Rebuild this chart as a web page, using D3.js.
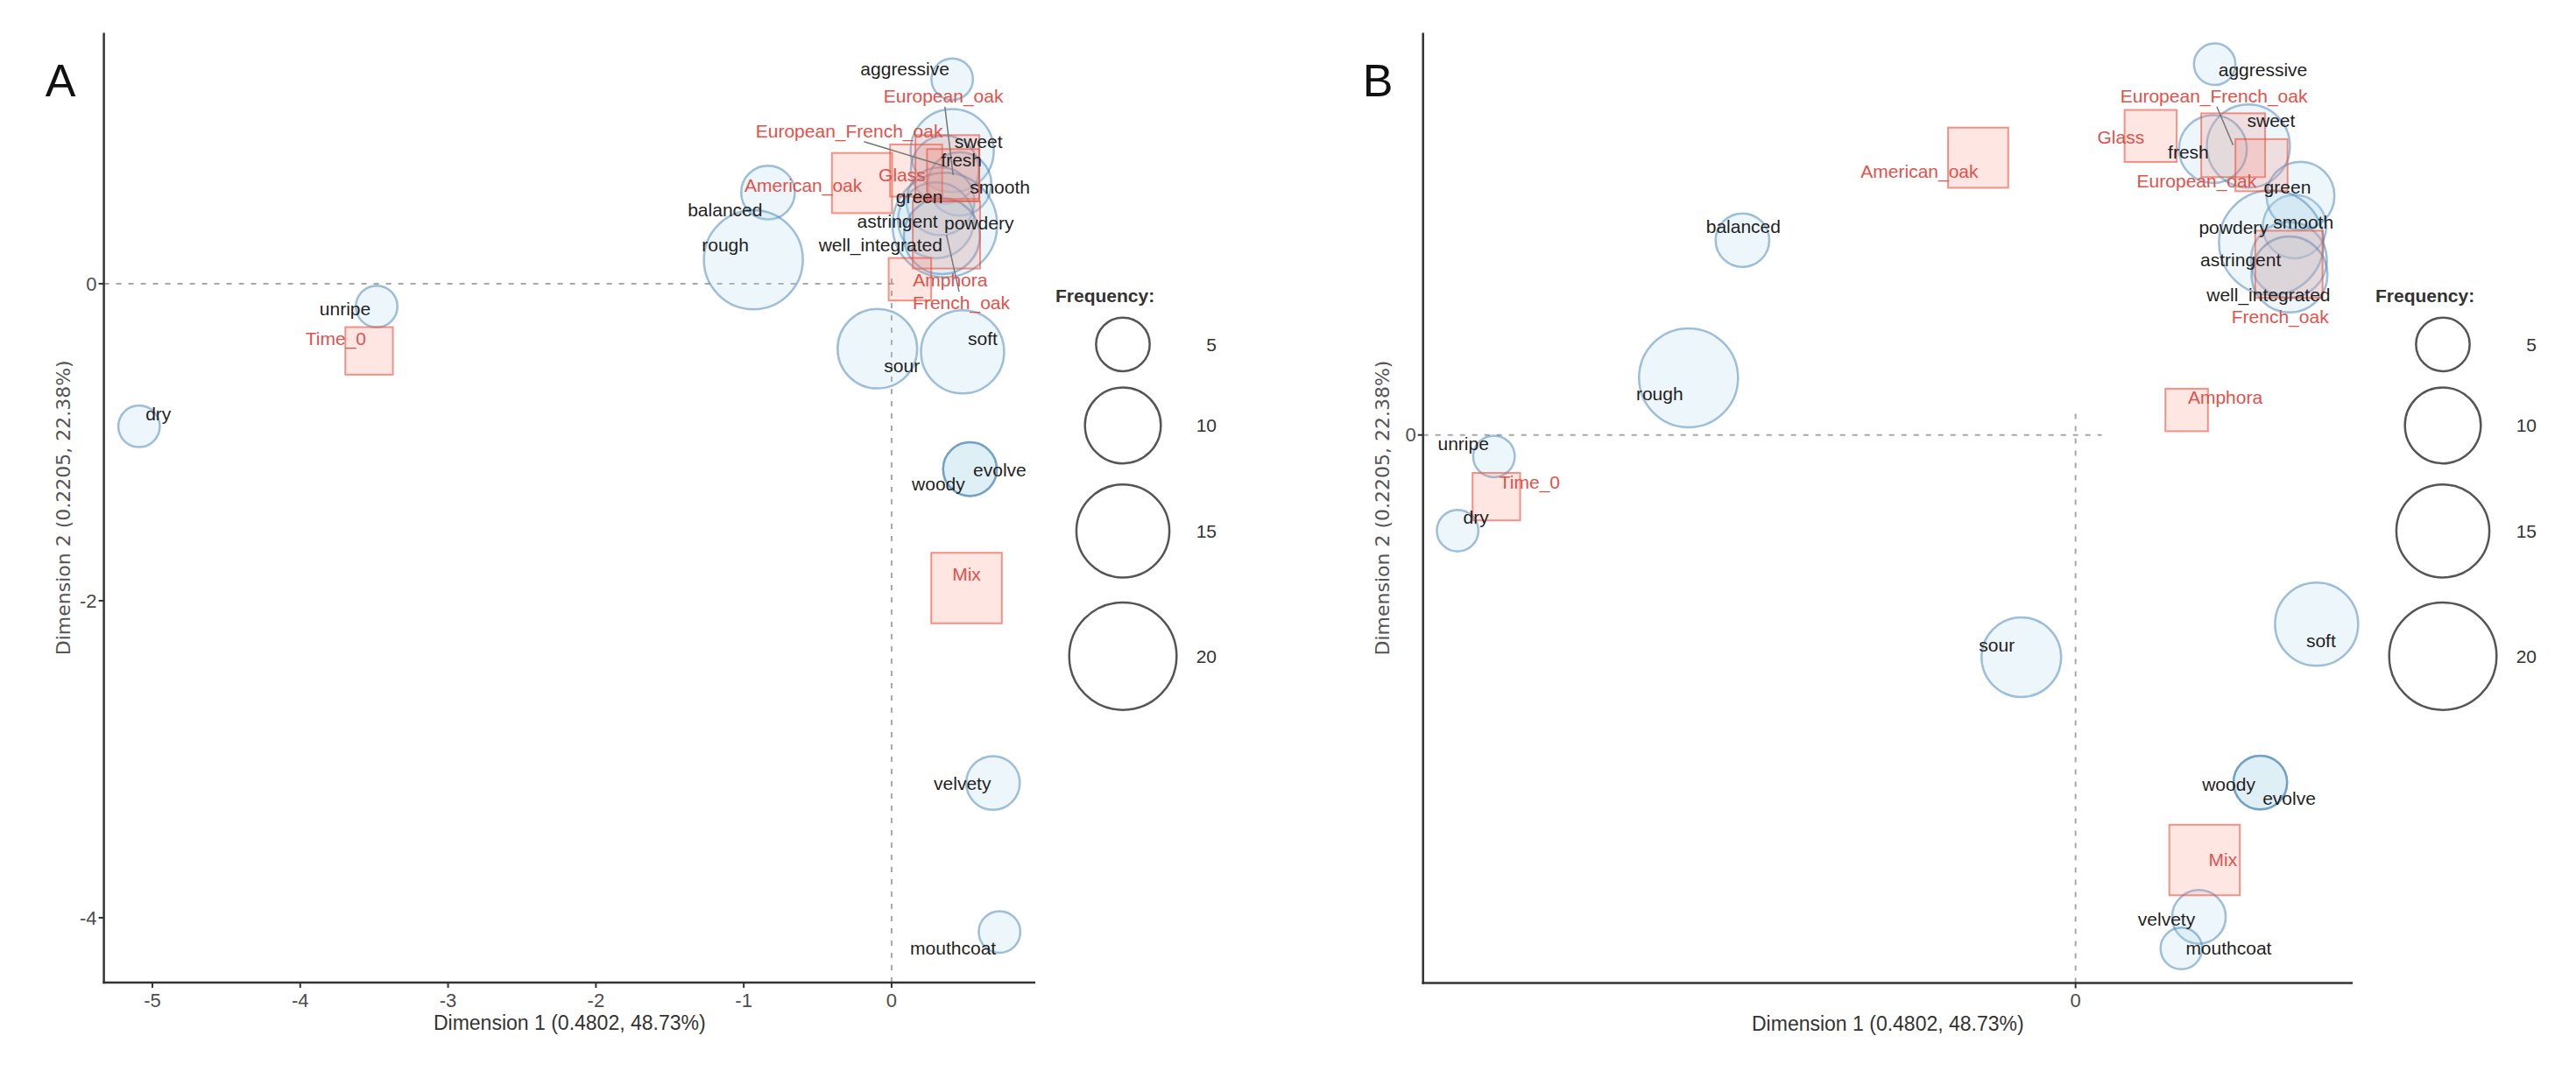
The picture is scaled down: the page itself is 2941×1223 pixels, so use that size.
<!DOCTYPE html>
<html>
<head>
<meta charset="utf-8">
<title>Correspondence maps A / B</title>
<script src="https://d3js.org/d3.v7.min.js"></script>
<style>
    body { margin: 0; background: #fff; }
    svg { display: block; font-family: "Liberation Sans", Arial, sans-serif; }
    .axis-line { stroke: #333; stroke-width: 2.5; }
    .tick-mark { stroke: #333; stroke-width: 2; }
    .tick-label { fill: #4d4d4d; font-size: 22px; }
    .ref-line { stroke: #a8a8a8; stroke-width: 2; stroke-dasharray: 6, 8; }
    .attr { fill: rgba(173, 216, 230, 0.22); stroke: rgba(70, 130, 180, 0.5); stroke-width: 2.5; }
    .cont { fill: rgba(250, 128, 114, 0.2); stroke: rgba(235, 80, 60, 0.6); stroke-width: 2; }
    .lab { font-size: 21px; }
    .seg { stroke: #777; stroke-width: 1.5; }
</style>
</head>
<body>
<div id="chart"></div>
<script>

// attributes (circles), sized by frequency
var attrNames = ['aggressive', 'balanced', 'rough', 'sour', 'soft', 'unripe', 'dry', 'woody', 'evolve',
                 'velvety', 'mouthcoat', 'sweet', 'fresh', 'smooth', 'green', 'astringent', 'powdery', 'well_integrated'];
var attrFreq = [3, 5, 17, 11, 12, 3, 3, 5, 5, 5, 3, 12, 8, 7, 8, 10, 19, 10];
var attrAx = [0.41, -0.836, -0.935, -0.096, 0.48, -3.483, -5.09, 0.53, 0.53, 0.686, 0.73, 0.41, 0.36, 0.46, 0.33, 0.30, 0.36, 0.34];
var attrAy = [1.29, 0.575, 0.151, -0.41, -0.43, -0.144, -0.90, -1.17, -1.17, -3.15, -4.09, 0.84, 0.72, 0.63, 0.52, 0.40, 0.37, 0.30];
var attrBx = [0.467, -1.118, -1.299, -0.182, 0.809, -1.952, -2.074, 0.62, 0.62, 0.414, 0.355, 0.58, 0.461, 0.735, 0.755, 0.716, 0.657, 0.718];
var attrBy = [1.245, 0.654, 0.192, -0.746, -0.635, -0.072, -0.321, -1.167, -1.167, -1.618, -1.724, 0.97, 0.96, 0.70, 0.803, 0.588, 0.646, 0.539];

// containers (squares)
var contNames = ['Time_0', 'American_oak', 'Glass', 'European_French_oak', 'European_oak', 'French_oak', 'Amphora', 'Mix'];
var contFreq = [5, 8, 6, 9, 6, 10, 4, 11];
var contAx = [-3.534, -0.20, 0.166, 0.377, 0.416, 0.371, 0.124, 0.507];
var contAy = [-0.424, 0.635, 0.714, 0.736, 0.685, 0.308, 0.028, -1.92];
var contBx = [-1.944, -0.327, 0.252, 0.529, 0.624, 0.716, 0.373, 0.433];
var contBy = [-0.207, 0.931, 1.004, 0.973, 0.906, 0.573, 0.084, -1.427];

// axes / legend
var ticksAx = [-5, -4, -3, -2, -1, 0];
var ticksAy = [-4, -2, 0];
var ticksBx = [0];
var ticksBy = [0];
var legendFreq = [5, 10, 15, 20];

var xTitle = 'Dimension 1 (0.4802, 48.73%)';
var yTitle = 'Dimension 2 (0.2205, 22.38%)';

// label placement (repel-style offsets in px from the mark centre)
var nudgeA = {
    aggressive: [-54, -12], balanced: [-49, 20], rough: [-32, -17], sour: [28, 19], soft: [23, -15],
    unripe: [-36, 3], dry: [22, -14], woody: [-36, 17], evolve: [34, 1], velvety: [-35, 1],
    mouthcoat: [-53, 18], sweet: [30, -10], fresh: [19, -11], smooth: [46, 4], green: [-24, -5],
    astringent: [-44, 1], powdery: [39, -2], well_integrated: [-70, 10],
    Time_0: [-38, -14], American_oak: [-67, 3], Glass: [-16, 5], European_French_oak: [-112, -41],
    European_oak: [-11, -90], French_oak: [17, 77], Amphora: [46, 1], Mix: [0, -16]
};
var nudgeB = {
    aggressive: [55, 6], balanced: [1, -16], rough: [-33, 18], sour: [-28, -14], soft: [5, 19],
    unripe: [-35, -15], dry: [21, -15], woody: [-36, 2], evolve: [33, 18], velvety: [-37, 3],
    mouthcoat: [54, 0], sweet: [26, -29], fresh: [-28, 3], smooth: [10, -5], green: [-15, -10],
    astringent: [-55, 0], powdery: [-43, -17], well_integrated: [-24, 23],
    Time_0: [38, -16], American_oak: [-67, 16], Glass: [-34, 1], European_French_oak: [-22, -56],
    European_oak: [-74, 18], French_oak: [-10, 60], Amphora: [44, -15], Mix: [21, 0]
};

var W = 2941, H = 1223;
var svg = d3.select('#chart').append('svg').attr('width', W).attr('height', H);

// shared size scale (circle radius); squares use the same area
var size = d3.scaleSqrt().domain([0, 20]).range([0, 61.3]);
var SQ = Math.sqrt(Math.PI);

function drawPanel(p) {
    var x = d3.scaleLinear().domain(p.xDom).range([p.left, p.right]);
    var y = d3.scaleLinear().domain(p.yDom).range([p.bottom, p.top]);
    var g = svg.append('g');

    // dashed reference lines (run from the axes to the origin)
    g.append('line').attr('class', 'ref-line')
        .attr('x1', p.left).attr('x2', x(0) + p.over)
        .attr('y1', y(0)).attr('y2', y(0));
    g.append('line').attr('class', 'ref-line')
        .attr('x1', x(0)).attr('x2', x(0))
        .attr('y1', p.bottom).attr('y2', y(0) - p.over);

    var attrs = attrNames.map(function(d, i) {
        return {name: d, f: attrFreq[i], x: p.ax[i], y: p.ay[i]};
    });
    var conts = contNames.map(function(d, i) {
        return {name: d, f: contFreq[i], x: p.cx[i], y: p.cy[i]};
    });

    g.selectAll('circle.attr').data(attrs).enter().append('circle')
        .attr('class', 'attr')
        .attr('cx', function(d) { return x(d.x); })
        .attr('cy', function(d) { return y(d.y); })
        .attr('r', function(d) { return size(d.f); });

    g.selectAll('rect.cont').data(conts).enter().append('rect')
        .attr('class', 'cont')
        .attr('x', function(d) { return x(d.x) - size(d.f) * SQ / 2; })
        .attr('y', function(d) { return y(d.y) - size(d.f) * SQ / 2; })
        .attr('width', function(d) { return size(d.f) * SQ; })
        .attr('height', function(d) { return size(d.f) * SQ; });

    // segments for labels pushed away from their mark
    var far = conts.filter(function(d) { return p.linked.indexOf(d.name) >= 0; });
    g.selectAll('line.seg').data(far).enter().append('line')
        .attr('class', 'seg')
        .attr('x1', function(d) { return x(d.x); })
        .attr('y1', function(d) { return y(d.y); })
        .attr('x2', function(d) { return x(d.x) + p.nudge[d.name][0] * 0.85; })
        .attr('y2', function(d) {
            var dy = p.nudge[d.name][1];
            return y(d.y) + dy + (dy < 0 ? 12 : -12);
        });

    // labels
    var labs = attrs.map(function(d) { return {d: d, col: '#1f1f1f'}; })
        .concat(conts.map(function(d) { return {d: d, col: '#e0524a'}; }));
    g.selectAll('text.lab').data(labs).enter().append('text')
        .attr('class', 'lab')
        .attr('x', function(l) { return x(l.d.x) + p.nudge[l.d.name][0]; })
        .attr('y', function(l) { return y(l.d.y) + p.nudge[l.d.name][1]; })
        .attr('dy', '0.35em')
        .attr('text-anchor', 'middle')
        .attr('fill', function(l) { return l.col; })
        .text(function(l) { return l.d.name; });

    // axes
    g.append('line').attr('class', 'axis-line')
        .attr('x1', p.left).attr('x2', p.left).attr('y1', p.top).attr('y2', p.bottom + 1.25);
    g.append('line').attr('class', 'axis-line')
        .attr('x1', p.left - 1.25).attr('x2', p.right).attr('y1', p.bottom).attr('y2', p.bottom);

    p.xTicks.forEach(function(t) {
        g.append('line').attr('class', 'tick-mark')
            .attr('x1', x(t)).attr('x2', x(t)).attr('y1', p.bottom).attr('y2', p.bottom + 6);
        g.append('text').attr('class', 'tick-label')
            .attr('x', x(t)).attr('y', p.bottom + 20).attr('dy', '0.35em')
            .attr('text-anchor', 'middle').text(t);
    });
    p.yTicks.forEach(function(t) {
        g.append('line').attr('class', 'tick-mark')
            .attr('x1', p.left - 6).attr('x2', p.left).attr('y1', y(t)).attr('y2', y(t));
        g.append('text').attr('class', 'tick-label')
            .attr('x', p.left - 8).attr('y', y(t)).attr('dy', '0.35em')
            .attr('text-anchor', 'end').text(t);
    });

    // axis titles
    g.append('text')
        .attr('x', (p.left + p.right) / 2).attr('y', p.bottom + 46).attr('dy', '0.35em')
        .attr('text-anchor', 'middle').attr('fill', '#333').attr('font-size', 23)
        .text(xTitle);
    g.append('text')
        .attr('transform', 'translate(' + (p.left - 46) + ',' + ((p.top + p.bottom) / 2) + ') rotate(-90)')
        .attr('dy', '0.35em').attr('text-anchor', 'middle')
        .attr('fill', '#555').attr('font-size', 22)
        .attr('font-family', '"DejaVu Sans", sans-serif')
        .text(yTitle);

    // panel tag
    g.append('text')
        .attr('x', p.tagX).attr('y', 110).attr('text-anchor', 'middle')
        .attr('font-size', 52).attr('fill', '#111').text(p.tag);

    // size legend
    var lg = g.append('g').attr('transform', 'translate(' + p.legendX + ',0)');
    lg.append('text').attr('x', 0).attr('y', 338).attr('dy', '0.35em')
        .attr('font-weight', 'bold').attr('font-size', 21).attr('fill', '#333')
        .text('Frequency:');
    var cy = 355;
    legendFreq.forEach(function(f) {
        var r = size(f);
        cy += r * 1.25;
        lg.append('circle').attr('cx', 77).attr('cy', cy).attr('r', r)
            .attr('fill', 'none').attr('stroke', '#555').attr('stroke-width', 2.5);
        lg.append('text').attr('x', 184).attr('y', cy).attr('dy', '0.35em')
            .attr('text-anchor', 'end').attr('font-size', 21).attr('fill', '#333').text(f);
        cy += r * 1.25;
    });
}

drawPanel({
    tag: 'A', tagX: 69,
    left: 118.6, right: 1182, top: 37.6, bottom: 1122,
    xDom: [-5.328, 0.972], yDom: [-4.409, 1.582],
    xTicks: ticksAx, yTicks: ticksAy, over: 7,
    ax: attrAx, ay: attrAy, cx: contAx, cy: contAy,
    nudge: nudgeA, linked: ['European_French_oak', 'European_oak', 'French_oak'],
    legendX: 1205
});

drawPanel({
    tag: 'B', tagX: 1573,
    left: 1624.7, right: 2686, top: 37.6, bottom: 1122.5,
    xDom: [-2.19, 0.93], yDom: [-1.84, 1.35],
    xTicks: ticksBx, yTicks: ticksBy, over: 30,
    ax: attrBx, ay: attrBy, cx: contBx, cy: contBy,
    nudge: nudgeB, linked: ['European_French_oak'],
    legendX: 2712
});

</script>
</body>
</html>
